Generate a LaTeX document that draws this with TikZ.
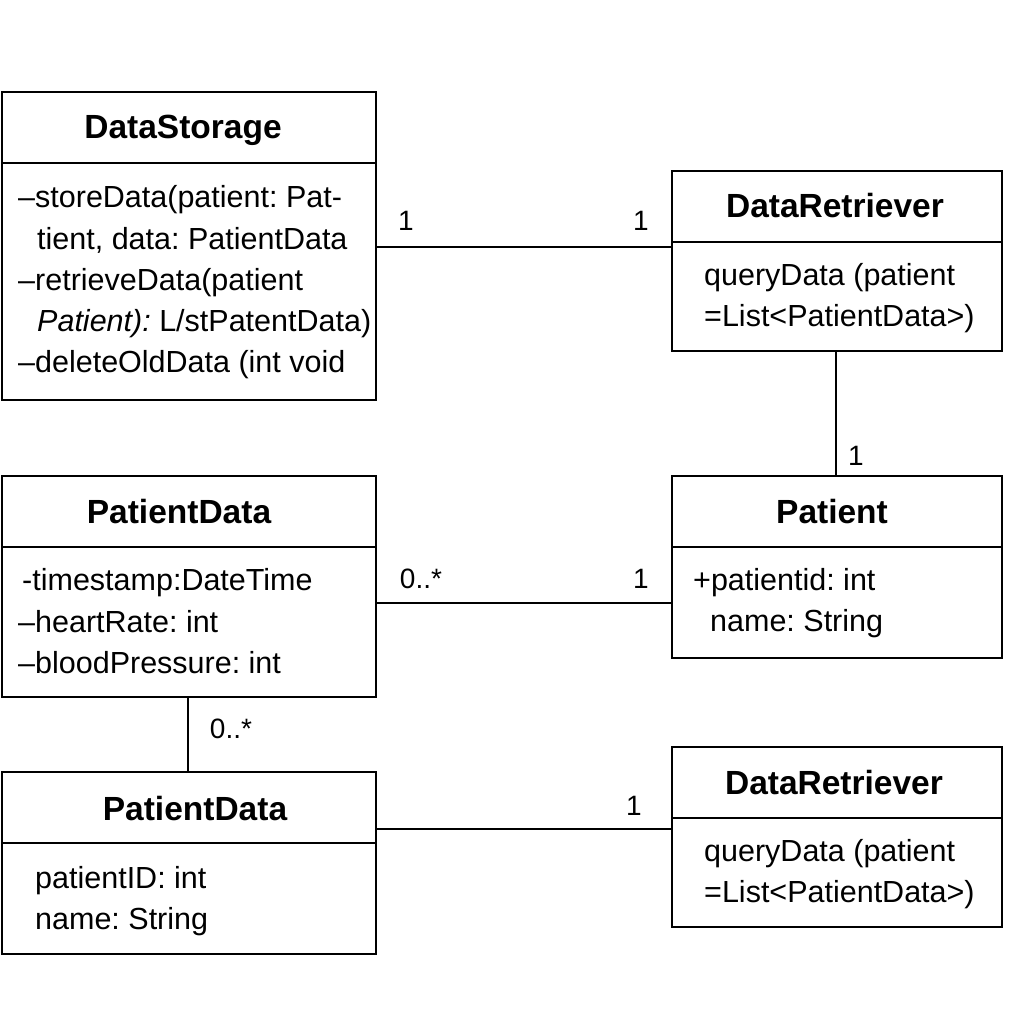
\documentclass[tikz,border=0pt]{standalone}
\usepackage{fontspec}
\setmainfont{Liberation Sans}
\frenchspacing
\begin{document}
\begin{tikzpicture}[x=1pt,y=-1pt,
  box/.style={draw,line width=2pt,inner sep=0pt,anchor=north west},
  title/.style={font=\fontsize{33.5}{38}\selectfont\bfseries,anchor=base,inner sep=0pt},
  txt/.style={font=\fontsize{30.5}{35}\selectfont,anchor=base west,inner sep=0pt},
  lbl/.style={font=\fontsize{28}{32}\selectfont,anchor=base,inner sep=0pt},
  conn/.style={line width=2pt}]
\useasboundingbox[fill=white] (0,0) rectangle (1024,1024);

% DataStorage
\node[box,minimum width=374pt,minimum height=308pt] (ds) at (1,91) {};
\draw[line width=2pt] (1,163) -- (375,163);
\node[title] (dst) at (183,139) {DataStorage};
\node[txt] (ds1) at (18,208) {–storeData(patient: Pat-};
\node[txt] (ds2) at (37,249) {tient, data: PatientData};
\node[txt] (ds3) at (18,290) {–retrieveData(patient};
\node[txt] (ds4) at (37,331) {\textit{Patient):}\ L/stPatentData)};
\node[txt] (ds5) at (18,372) {–deleteOldData (int void};

% DataRetriever top
\node[box,minimum width=330pt,minimum height=180pt] (dr1) at (671,170) {};
\draw[line width=2pt] (671,242) -- (1001,242);
\node[title] (dr1t) at (835,218) {DataRetriever};
\node[txt] (dr1a) at (704,285) {queryData (patient};
\node[txt] (dr1b) at (704,326) {=List<PatientData>)};

% Patient
\node[box,minimum width=330pt,minimum height=182pt] (pt) at (671,475) {};
\draw[line width=2pt] (671,547) -- (1001,547);
\node[title] (ptt) at (832,523) {Patient};
\node[txt] (pta) at (693,590) {+patientid: int};
\node[txt] (ptb) at (710,631) {name: String};

% PatientData top
\node[box,minimum width=374pt,minimum height=221pt] (pd1) at (1,475) {};
\draw[line width=2pt] (1,547) -- (375,547);
\node[title] (pd1t) at (179,523) {PatientData};
\node[txt] (pd1a) at (22,590) {-timestamp:DateTime};
\node[txt] (pd1b) at (18,632) {–heartRate: int};
\node[txt] (pd1c) at (18,673) {–bloodPressure: int};

% PatientData lower
\node[box,minimum width=374pt,minimum height=182pt] (pd2) at (1,771) {};
\draw[line width=2pt] (1,843) -- (375,843);
\node[title] (pd2t) at (195,820) {PatientData};
\node[txt] (pd2a) at (35,888) {patientID: int};
\node[txt] (pd2b) at (35,929) {name: String};

% DataRetriever lower
\node[box,minimum width=330pt,minimum height=180pt] (dr2) at (671,746) {};
\draw[line width=2pt] (671,818) -- (1001,818);
\node[title] (dr2t) at (834,794) {DataRetriever};
\node[txt] (dr2a) at (704,861) {queryData (patient};
\node[txt] (dr2b) at (704,902) {=List<PatientData>)};

% connectors
\draw[conn] (ds.east |- 0,247) -- (dr1.west |- 0,247);
\node[lbl] (l1) at (406,231) {1};
\node[lbl] (l2) at (641,231) {1};
\draw[conn] (dr1.south -| 836,0) -- (pt.north -| 836,0);
\node[lbl] (l3) at (856,465) {1};
\draw[conn] (pd1.east |- 0,603) -- (pt.west |- 0,603);
\node[lbl] (l4) at (421,588) {0..*};
\node[lbl] (l5) at (641,588) {1};
\draw[conn] (pd1.south -| 188,0) -- (pd2.north -| 188,0);
\node[lbl] (l6) at (231,738) {0..*};
\draw[conn] (pd2.east |- 0,829) -- (dr2.west |- 0,829);
\node[lbl] (l7) at (634,815) {1};
\end{tikzpicture}
\end{document}
